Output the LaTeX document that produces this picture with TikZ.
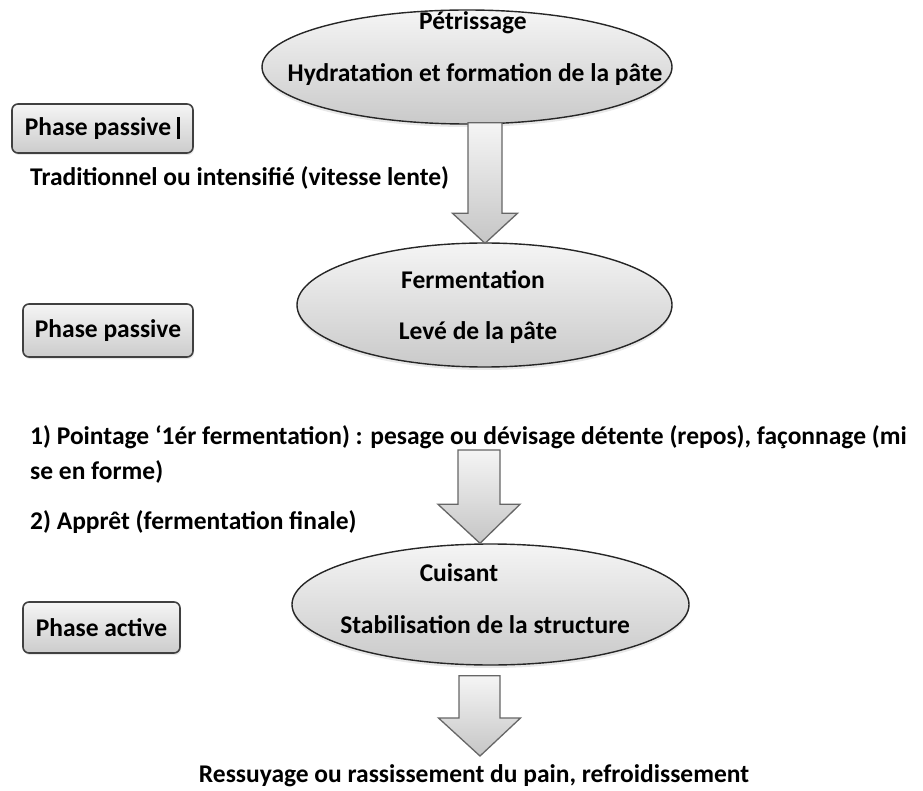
\documentclass[tikz,border=0pt]{standalone}
\usepackage{fontspec}
\setmainfont{Carlito}
\usetikzlibrary{shapes.geometric,calc,shadows}
\tikzset{
  ell/.style={ellipse, draw=black!85, line width=1.4pt, top color=gray!8, bottom color=gray!42,
    drop shadow={opacity=0.18,shadow xshift=0pt,shadow yshift=-3pt}, inner sep=0pt},
  pbox/.style={rounded corners=6pt, draw=black!75, line width=1.6pt, top color=gray!8, bottom color=gray!40,
    drop shadow={opacity=0.18,shadow xshift=1pt,shadow yshift=-2pt}, inner sep=0pt,
    font=\fontsize{25.5}{30}\selectfont\bfseries},
  txt/.style={font=\fontsize{25.5}{30}\selectfont\bfseries, inner sep=0pt, text=black},
  barrow/.style={draw=black!60, line width=1.3pt, top color=gray!8, bottom color=gray!45, line join=miter}
}
\newcommand\blockarr[5]{%
  \path[barrow] let \p1=(#1), \p2=(#2) in
    (\x1-#3pt,\y1) -- (\x1+#3pt,\y1) -- (\x1+#3pt,\y2+#5pt) -- (\x1+#4pt,\y2+#5pt)
    -- (\x2,\y2) -- (\x1-#4pt,\y2+#5pt) -- (\x1-#3pt,\y2+#5pt) -- cycle;}
\begin{document}
\begin{tikzpicture}[x=1pt,y=-1pt]
\useasboundingbox (0,0) rectangle (923,791);
% ellipses
\node[ell, minimum width=410pt, minimum height=114pt] (e1) at (467,67) {};
\node[ell, minimum width=375pt, minimum height=124pt] (e2) at (484.5,305) {};
\node[ell, minimum width=397pt, minimum height=121pt] (e3) at (490.5,604.5) {};
% texts in ellipses
\node[txt] (t1a) at (473,23) {Pétrissage};
\node[txt] (t1b) at (475,75) {Hydratation et formation de la pâte};
\node[txt] (t3a) at (473,280) {Fermentation};
\node[txt] (t3b) at (478,333) {Levé de la pâte};
\node[txt] (t7a) at (459,573) {Cuisant};
\node[txt] (t7b) at (485,625) {Stabilisation de la structure};
% phase boxes
\node[pbox, minimum width=181pt, minimum height=49pt] (b1) at (102.5,128.5)
  {Phase passive\hspace{6pt}\rule[-4pt]{3pt}{22pt}};
\node[pbox, minimum width=170pt, minimum height=53pt] (b2) at (108,330.5) {Phase passive};
\node[pbox, minimum width=157pt, minimum height=51pt] (b3) at (101.5,627.5) {Phase active};
% free texts
\node[txt, anchor=west] (t2) at (30,178) {Traditionnel ou intensifié (vitesse lente)};
\node[txt, anchor=west] (t4) at (30,437) {1) Pointage ‘1ér fermentation) : pesage ou dévisage détente (repos), façonnage (mi};
\node[txt, anchor=west] (t5) at (30,472) {se en forme)};
\node[txt, anchor=west] (t6) at (30,522) {2) Apprêt (fermentation finale)};
\node[txt] (t8) at (474,776) {Ressuyage ou rassissement du pain, refroidissement};
% connector coordinates
\coordinate (a1s) at ($(e1.south)+(18,-2)$);
\coordinate (a1t) at ($(e2.north)+(0.5,1)$);
\coordinate (a2s) at (479,450);
\coordinate (a2t) at ($(e3.north)+(-10.5,0)$);
\coordinate (a3s) at ($(e3.south)+(-11,10)$);
\coordinate (a3t) at (480,756);
% block arrows
\blockarr{a1s}{a1t}{17}{32.5}{30}
\blockarr{a2s}{a2t}{21}{41}{39}
\blockarr{a3s}{a3t}{20.5}{41}{38}
\end{tikzpicture}
\end{document}
